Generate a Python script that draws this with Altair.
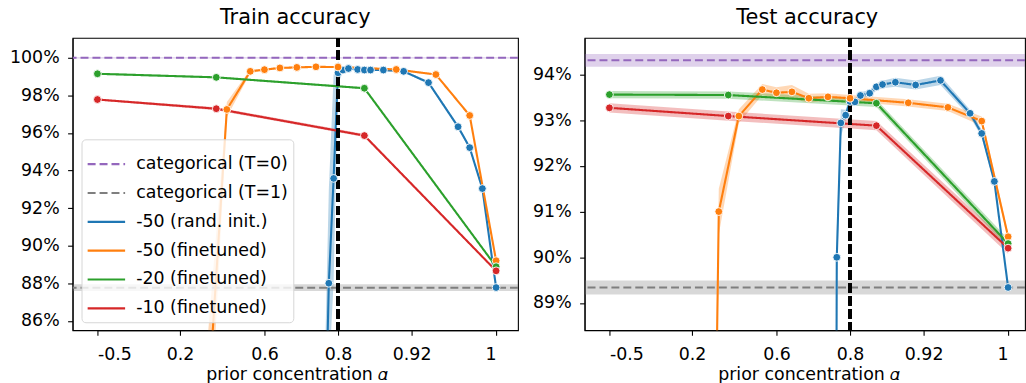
import altair as alt
import pandas as pd

FONT = "DejaVu Sans"

SERIES = ["categorical (T=0)", "categorical (T=1)", "-50 (rand. init.)",
          "-50 (finetuned)", "-20 (finetuned)", "-10 (finetuned)"]
COLORS = ["#9467bd", "#7f7f7f", "#1f77b4", "#ff7f0e", "#2ca02c", "#d62728"]
DASHES = [[8, 4], [8, 4], [1, 0], [1, 0], [1, 0], [1, 0]]

# non-linear x axis: tick values and where they sit along the axis
x_ticks = [-0.5, 0.2, 0.6, 0.8, 0.92, 1.0]
x_tick_pos = [25, 108, 193, 267, 341, 426]

# reference (categorical) lines: [T=0, T=1]
cat_train = [100.0, 87.76]
cat_train_err = [0.03, 0.18]
cat_test = [94.31, 89.34]
cat_test_err = [0.14, 0.155]

# -50 (rand. init.)
blue_alpha = [0.75, 0.764, 0.775, 0.788, 0.80, 0.808, 0.817, 0.832, 0.843, 0.853,
              0.874, 0.907, 0.936, 0.964, 0.975, 0.987, 1.0]
blue_train = [40.0, 78.6, 88.0, 93.58, 99.2, 99.35, 99.43, 99.38, 99.35, 99.35,
              99.35, 99.28, 98.68, 96.33, 95.22, 93.04, 87.77]
blue_train_err = [6, 5, 5, 5.5, 0.6, 0.1, 0.05, 0.05, 0.05, 0.05,
                  0.05, 0.05, 0.08, 0.1, 0.1, 0.1, 0.08]
blue_test = [50.0, 90.0, 92.94, 93.11, 93.41, 93.40, 93.54, 93.59, 93.73, 93.78,
             93.83, 93.77, 93.87, 93.15, 92.71, 91.66, 89.34]
blue_test_err = [3, 0.6, 0.3, 0.12, 0.1, 0.08, 0.07, 0.07, 0.08, 0.08,
                 0.1, 0.1, 0.1, 0.08, 0.08, 0.08, 0.05]

# -50 (finetuned)
orange_alpha = [0.30, 0.327, 0.422, 0.533, 0.60, 0.642, 0.688, 0.74, 0.80, 0.895,
                0.943, 0.975, 1.0]
orange_train = [50.0, 80.5, 97.25, 99.28, 99.37, 99.46, 99.49, 99.52, 99.51, 99.38,
                99.11, 96.93, 89.2]
orange_train_err = [6, 4, 0.4, 0.1, 0.05, 0.05, 0.05, 0.05, 0.05, 0.05, 0.05, 0.05, 0.05]
orange_test = [82.0, 91.0, 93.09, 93.67, 93.60, 93.62, 93.48, 93.51, 93.48, 93.38,
               93.28, 92.98, 90.45]
orange_test_err = [2, 0.5, 0.15, 0.12, 0.12, 0.15, 0.1, 0.08, 0.07, 0.08, 0.08, 0.1, 0.08]

# -20 (finetuned)
green_alpha = [-0.5, 0.372, 0.843, 1.0]
green_train = [99.15, 98.96, 98.38, 88.88]
green_train_err = [0.05, 0.05, 0.05, 0.05]
green_test = [93.56, 93.55, 93.37, 90.3]
green_test_err = [0.08, 0.08, 0.08, 0.1]

# -10 (finetuned)
red_alpha = [-0.5, 0.372, 0.843, 1.0]
red_train = [97.78, 97.29, 95.86, 88.66]
red_train_err = [0.05, 0.08, 0.08, 0.05]
red_test = [93.27, 93.09, 92.88, 90.2]
red_test_err = [0.1, 0.1, 0.1, 0.12]


def series_frame(metric):
    groups = [
        (SERIES[2], blue_alpha, blue_train, blue_train_err, blue_test, blue_test_err),
        (SERIES[3], orange_alpha, orange_train, orange_train_err, orange_test, orange_test_err),
        (SERIES[4], green_alpha, green_train, green_train_err, green_test, green_test_err),
        (SERIES[5], red_alpha, red_train, red_train_err, red_test, red_test_err),
    ]
    rows = []
    for name, a, tr, tre, te, tee in groups:
        vals, errs = (tr, tre) if metric == "train" else (te, tee)
        for i, (x, v, e) in enumerate(zip(a, vals, errs)):
            rows.append({"series": name, "alpha": x, "value": v,
                         "lo": v - e, "hi": v + e, "order": i})
    return pd.DataFrame(rows)


def cat_frame(metric):
    vals, errs = (cat_train, cat_train_err) if metric == "train" else (cat_test, cat_test_err)
    return pd.DataFrame({"series": SERIES[:2], "value": vals,
                         "lo": [v - e for v, e in zip(vals, errs)],
                         "hi": [v + e for v, e in zip(vals, errs)]})


def panel(metric, title, ydomain, yticks, width, show_legend, title_dx=0):
    df = series_frame(metric)
    cf = cat_frame(metric)
    xs = alt.Scale(domain=x_ticks, range=x_tick_pos, zero=False, nice=False)
    ys = alt.Scale(domain=ydomain, zero=False, nice=False)
    xaxis = alt.Axis(values=x_ticks, labelExpr="toString(datum.value)",
                     title="prior concentration 𝛼", labelPadding=10, titlePadding=3)
    yaxis = alt.Axis(values=yticks, labelExpr="datum.value + '%'", title=None,
                     labelPadding=8.5)
    x = alt.X("alpha:Q", scale=xs, axis=xaxis)
    # fill scale lists the same names in another order so that its (hidden)
    # legend is not merged with the line legend
    fill = alt.Fill("series:N", scale=alt.Scale(domain=SERIES[::-1], range=COLORS[::-1]),
                    legend=None)
    if show_legend:
        leg = alt.Legend(title=None, orient="bottom-left", offset=8.5,
                         symbolType="stroke", symbolSize=1420, symbolStrokeWidth=2.2,
                         labelFont=FONT, labelFontSize=17.5, labelColor="black",
                         labelOffset=10, labelLimit=400, padding=5, rowPadding=-4.5,
                         fillColor="rgba(255,255,255,0.8)", strokeColor="#d6d6d6",
                         cornerRadius=4)
    else:
        leg = None
    color = alt.Color("series:N", scale=alt.Scale(domain=SERIES, range=COLORS), legend=leg)
    dash = alt.StrokeDash("series:N", scale=alt.Scale(domain=SERIES, range=DASHES), legend=leg)

    bands = alt.Chart(df).mark_area(fillOpacity=0.3, clip=True).encode(
        x=x, y=alt.Y("lo:Q", scale=ys, axis=yaxis), y2=alt.Y2("hi:Q"),
        fill=fill, detail="series:N")
    cat_bands = alt.Chart(cf).mark_rect(opacity=0.3, clip=True).encode(
        x=alt.value(0), x2=alt.value("width"), y=alt.Y("lo:Q", scale=ys), y2="hi:Q",
        fill=fill)
    cat_lines = alt.Chart(cf).mark_rule(strokeWidth=2.1, clip=True).encode(
        y=alt.Y("value:Q", scale=ys), color=color, strokeDash=dash)
    lines = alt.Chart(df).mark_line(strokeWidth=2.1, clip=True).encode(
        x=x, y=alt.Y("value:Q", scale=ys), color=color, strokeDash=dash,
        order="order:Q")
    vline = alt.Chart(df).mark_rule(color="black", strokeWidth=2.6,
                                    strokeDash=[9, 4]).encode(x=alt.datum(0.8))
    points = alt.Chart(df).mark_point(filled=True, size=62, stroke="white",
                                      strokeWidth=0.9, opacity=1, clip=True).encode(
        x=x, y=alt.Y("value:Q", scale=ys), fill=fill)

    return alt.layer(bands, cat_bands, cat_lines, lines, vline, points).properties(
        width=width, height=294,
        title=alt.TitleParams(title, fontSize=21, font=FONT, fontWeight="normal",
                              color="black", anchor="middle", frame="group",
                              offset=9, dx=title_dx))


left = panel("train", "Train accuracy", [85.5, 101.06], [86, 88, 90, 92, 94, 96, 98, 100],
             448, True)
right = panel("test", "Test accuracy", [88.405, 94.80], [89, 90, 91, 92, 93, 94],
              443, False, title_dx=2.5)

chart = alt.hconcat(left, right, spacing=13).resolve_scale(
    color="independent", strokeDash="independent", fill="independent",
    x="independent", y="independent"
).properties(
    padding={"left": 8, "top": 5, "right": 0, "bottom": 0},
    background="white"
).configure_view(
    stroke="black", strokeWidth=1.1
).configure_axis(
    grid=False, domainColor="black", domainWidth=1.1, tickColor="black",
    tickWidth=1.1, tickSize=5, labelFont=FONT, labelFontSize=17.5,
    labelColor="black", titleFont=FONT, titleFontSize=17.5,
    titleFontWeight="normal", titleColor="black"
)

chart.save("out.html", embed_options={"renderer": "svg", "actions": False})
